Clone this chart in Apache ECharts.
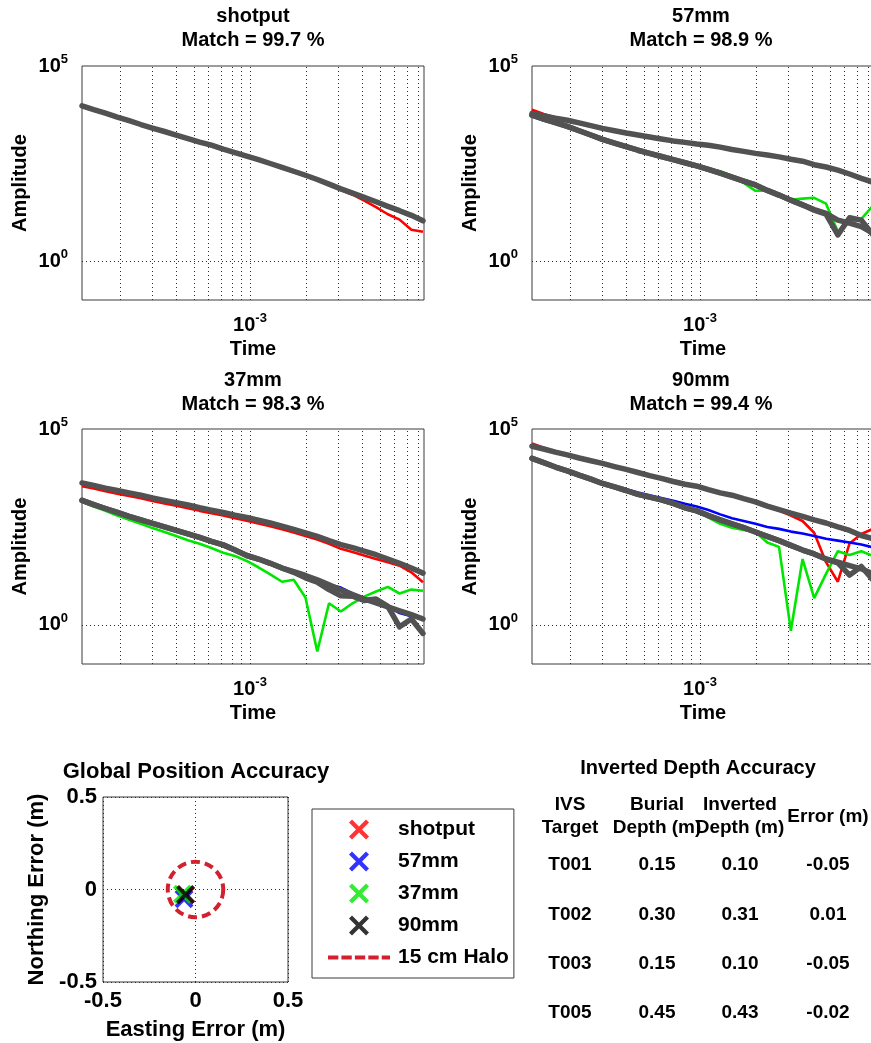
<!DOCTYPE html>
<html>
<head>
<meta charset="utf-8">
<script src="https://cdn.jsdelivr.net/npm/echarts@6/dist/echarts.min.js"></script>
<style>
  html, body { margin: 0; padding: 0; background: #fff; }
  #chart { width: 871px; height: 1043px; }
</style>
</head>
<body>
<div id="chart"></div>
<script>
// ---- time gates (s) shared by every decay curve ----
const times = [1.25e-4, 1.445e-4, 1.67e-4, 1.935e-4, 2.24e-4, 2.59e-4, 2.99e-4, 3.47e-4, 4.01e-4, 4.64e-4,
  5.36e-4, 6.2e-4, 7.18e-4, 8.3e-4, 9.6e-4, 1.11e-3, 1.285e-3, 1.486e-3, 1.718e-3, 1.987e-3,
  2.3e-3, 2.66e-3, 3.08e-3, 3.56e-3, 4.11e-3, 4.76e-3, 5.51e-3, 6.37e-3, 7.37e-3, 8.51e-3];

// ---- shotput ----
const shotputRed   = [9770, 7590, 6030, 4900, 3980, 3240, 2570, 2090, 1660, 1380, 1120, 912, 741, 603, 490, 398, 316, 251, 195, 155, 120, 91.2, 66.1, 50.1, 35.5, 24.0, 15.8, 11.5, 6.31, 5.62];
const shotputGreen = [9550, 7590, 6170, 4900, 3980, 3160, 2570, 2090, 1700, 1380, 1120, 933, 741, 603, 490, 398, 316, 251, 186, 155, 123, 93.3, 69.2, 53.7, 42.7, 33.1, 25.7, 20.0, 15.1, 11.2];
const shotputBlue  = [9550, 7590, 6170, 4900, 3980, 3160, 2570, 2090, 1700, 1380, 1120, 933, 741, 603, 490, 398, 316, 251, 200, 158, 123, 93.3, 70.8, 55.0, 42.7, 32.4, 25.1, 19.1, 14.5, 10.5];
const shotputFit   = [9550, 7590, 6170, 4900, 3980, 3160, 2570, 2090, 1700, 1380, 1120, 933, 741, 603, 490, 398, 316, 251, 200, 158, 123, 93.3, 70.8, 55.0, 42.7, 33.1, 25.1, 19.5, 14.8, 10.7];

// ---- 57mm ----
const mm57Red       = [7590, 5890, 4790, 4170, 3550, 3020, 2570, 2240, 1950, 1700, 1550, 1380, 1230, 1100, 1000, 912, 851, 741, 661, 575, 525, 457, 417, 355, 288, 263, 214, 166, 132, 110];
const mm57Green     = [5370, 4270, 3470, 2750, 2140, 1660, 1290, 1020, 832, 692, 575, 479, 398, 331, 288, 229, 200, 151, 100, 63.1, 63.1, 46.8, 37.2, 39.8, 41.7, 29.5, 5.62, 10.0, 12.0, 26.3];
const mm57Blue      = [5750, 4470, 3550, 2820, 2190, 1700, 1320, 1050, 851, 692, 589, 490, 407, 339, 288, 229, 182, 145, 115, 91.2, 66.1, 50.1, 37.2, 27.5, 21.4, 16.2, 11.7, 9.55, 7.94, 5.62];
const mm57FitUpper  = [6030, 5250, 4570, 4070, 3470, 2950, 2510, 2190, 1910, 1700, 1510, 1350, 1200, 1100, 1000, 933, 832, 724, 646, 575, 525, 468, 407, 363, 295, 257, 214, 170, 132, 105];
const mm57FitLowerA = [5500, 4370, 3550, 2820, 2190, 1700, 1320, 1050, 851, 692, 575, 479, 398, 331, 275, 224, 178, 141, 112, 89.1, 64.6, 49.0, 36.3, 27.5, 20.9, 16.6, 11.2, 9.33, 7.59, 5.13];
const mm57FitLowerB = [5500, 4370, 3550, 2820, 2190, 1700, 1320, 1050, 851, 692, 575, 479, 398, 331, 275, 224, 178, 141, 112, 89.1, 64.6, 49.0, 36.3, 27.5, 20.0, 15.8, 4.68, 12.9, 11.2, 4.68];

// ---- 37mm ----
const mm37Red       = [3470, 3020, 2570, 2240, 1950, 1700, 1450, 1260, 1100, 955, 813, 708, 617, 525, 457, 389, 331, 275, 229, 186, 151, 117, 87.1, 72.4, 58.9, 47.9, 39.8, 32.4, 21.9, 12.3];
const mm37Green     = [1380, 1050, 813, 617, 479, 380, 295, 234, 186, 145, 117, 91.2, 69.2, 57.5, 42.7, 29.5, 19.5, 12.6, 14.1, 5.01, 0.209, 3.55, 2.19, 3.55, 5.25, 7.08, 9.33, 6.31, 7.94, 7.41];
const mm37Blue      = [1580, 1200, 933, 741, 589, 479, 389, 316, 257, 209, 170, 135, 110, 83.2, 60.3, 47.9, 37.2, 28.8, 22.9, 18.2, 14.5, 10.7, 8.91, 6.31, 4.57, 3.63, 2.95, 2.00, 1.66, 1.55];
const mm37FitUpper  = [4170, 3630, 3090, 2690, 2340, 2040, 1740, 1510, 1320, 1150, 977, 851, 741, 631, 550, 468, 398, 331, 275, 224, 182, 141, 112, 93.3, 75.9, 61.7, 47.9, 37.2, 28.2, 20.9];
const mm37FitLowerA = [1510, 1170, 933, 741, 589, 479, 389, 316, 257, 209, 170, 135, 110, 81.3, 58.9, 47.9, 37.2, 28.2, 22.9, 18.2, 14.1, 10.5, 7.76, 5.89, 4.57, 3.63, 2.88, 2.29, 1.82, 1.41];
const mm37FitLowerB = [1510, 1170, 933, 741, 589, 479, 389, 316, 257, 209, 170, 135, 110, 81.3, 58.9, 47.9, 37.2, 28.2, 21.9, 15.8, 12.3, 7.94, 5.50, 5.37, 4.17, 4.57, 2.95, 0.891, 1.41, 0.603];

// ---- 90mm ----
const mm90Red       = [42700, 33100, 26300, 21900, 18600, 15500, 13200, 11000, 9330, 7760, 6610, 5500, 4570, 3890, 3470, 2820, 2340, 2000, 1660, 1380, 1050, 832, 617, 447, 224, 39.8, 12.6, 120, 209, 282];
const mm90Green     = [16600, 13200, 10200, 8130, 6310, 5010, 3980, 3160, 2570, 2040, 1740, 1450, 1170, 912, 759, 550, 380, 302, 263, 234, 126, 97.7, 0.708, 47.9, 4.79, 20.0, 75.9, 60.3, 75.9, 57.5];
const mm90Blue      = [17800, 13800, 10700, 8510, 6610, 5250, 4170, 3470, 2880, 2400, 2040, 1740, 1480, 1230, 1050, 851, 661, 525, 447, 380, 316, 282, 240, 214, 186, 158, 141, 126, 112, 95.5];
const mm90FitUpper  = [36300, 30900, 25700, 21900, 18200, 15500, 13200, 11000, 9330, 7760, 6460, 5500, 4570, 3890, 3470, 2820, 2340, 2040, 1660, 1380, 1070, 871, 708, 589, 479, 398, 316, 257, 191, 158];
const mm90FitLowerA = [17800, 13800, 10700, 8510, 6610, 5250, 4070, 3310, 2690, 2140, 1820, 1550, 1260, 977, 813, 617, 479, 380, 302, 234, 182, 141, 107, 81.3, 64.6, 47.9, 39.8, 32.4, 26.9, 20.0];
const mm90FitLowerB = [17800, 13800, 10700, 8510, 6610, 5250, 4070, 3310, 2690, 2140, 1820, 1550, 1260, 977, 813, 617, 479, 380, 302, 234, 182, 141, 107, 81.3, 64.6, 47.9, 38.0, 18.6, 30.9, 14.1];

// ---- panel labels ----
const targetNames = ['shotput', '57mm', '37mm', '90mm'];
const matchPct = [99.7, 98.9, 98.3, 99.4];

// ---- axis ranges, grid-line positions and labelled ticks of the log panels ----
const timeRange = [1.25e-4, 8.62e-3];
const ampRange = [0.1, 1e5];
const timeGridLines = [2e-4, 3e-4, 4e-4, 5e-4, 6e-4, 7e-4, 8e-4, 9e-4, 1e-3, 2e-3, 3e-3, 4e-3, 5e-3, 6e-3, 7e-3, 8e-3];
const ampGridLines = [1];
const timeTickLabels = [1e-3];
const ampTickLabels = [1, 1e5];

// ---- position errors (m) ----
const eastingError  = [-0.055, -0.062, -0.070, -0.053];
const northingError = [-0.030, -0.050, -0.025, -0.027];
const haloCenter = [0, 0];
const haloRadius = 0.15;
const haloName = '15 cm Halo';

// ---- depth table ----
const ivsTargets    = ['T001', 'T002', 'T003', 'T005'];
const burialDepth   = [0.15, 0.30, 0.15, 0.45];
const invertedDepth = [0.10, 0.31, 0.10, 0.43];
const depthError    = [-0.05, 0.01, -0.05, -0.02];
const tableHeaders  = ['IVS\nTarget', 'Burial\nDepth (m)', 'Inverted\nDepth (m)', 'Error (m)'];

// ---------------------------------------------------------------------------
const FONT = "'Liberation Sans', Arial, Helvetica, sans-serif";
const chart = echarts.init(document.getElementById('chart'), null, { renderer: 'canvas', width: 871, height: 1043 });

const panels = [
  { data: [shotputRed, shotputGreen, shotputBlue], fits: [shotputFit] },
  { data: [mm57Red, mm57Green, mm57Blue], fits: [mm57FitUpper, mm57FitLowerA, mm57FitLowerB] },
  { data: [mm37Red, mm37Green, mm37Blue], fits: [mm37FitUpper, mm37FitLowerA, mm37FitLowerB] },
  { data: [mm90Red, mm90Green, mm90Blue], fits: [mm90FitUpper, mm90FitLowerA, mm90FitLowerB] }
];
const dataColors = ['#ff0000', '#00e600', '#0000ff'];
const fitColor = '#525252';
const markerColors = ['#ff0000', '#0000ff', '#00e600', '#000000'];
const haloColor = '#d3202e';
const dotStyle = { color: '#2a2a2a', width: 1, type: [1, 3] };

const boxes = [
  { left: 82,  top: 66,  width: 342, height: 234 },
  { left: 532, top: 66,  width: 342, height: 234 },
  { left: 82,  top: 429, width: 342, height: 235 },
  { left: 532, top: 429, width: 342, height: 235 }
];
const scatterBox = { left: 103, top: 797, width: 185, height: 185 };

const supRich = {
  b: { fontFamily: FONT, fontSize: 20, fontWeight: 'bold', color: '#000', lineHeight: 26 },
  s: { fontFamily: FONT, fontSize: 13, fontWeight: 'bold', color: '#000', lineHeight: 12, verticalAlign: 'top' }
};
const nearPow = (v, list) => list.find(p => Math.abs(Math.log10(v) - Math.log10(p)) < 1e-6);
const powLabel = v => '{b|10}{s|' + Math.round(Math.log10(v)) + '}';
const nameStyle = size => ({ fontFamily: FONT, fontSize: size, fontWeight: 'bold', color: '#000' });

const grids = [];
const xAxes = [];
const yAxes = [];
const series = [];

boxes.forEach((b, i) => {
  grids.push(Object.assign({ show: true, borderColor: '#3a3a3a', borderWidth: 1, backgroundColor: '#fff',
    containLabel: false, outerBoundsMode: 'none' }, b));
  xAxes.push({
    type: 'log', logBase: 10, gridIndex: i, min: timeRange[0], max: timeRange[1],
    axisLine: { show: false }, axisTick: { show: false }, splitLine: { show: false },
    axisLabel: {
      margin: 12, interval: 0,
      formatter: v => (nearPow(v, timeTickLabels) ? powLabel(v) : ''), rich: supRich
    },
    name: 'Time', nameLocation: 'middle', nameGap: 39, nameTextStyle: nameStyle(20)
  });
  yAxes.push({
    type: 'log', logBase: 10, gridIndex: i, min: ampRange[0], max: ampRange[1],
    axisLine: { show: false }, axisTick: { show: false }, splitLine: { show: false },
    axisLabel: {
      margin: 14, interval: 0,
      formatter: v => (nearPow(v, ampTickLabels) ? powLabel(v) : ''), rich: supRich
    },
    name: 'Amplitude', nameLocation: 'middle', nameRotate: 90, nameGap: 52, nameTextStyle: nameStyle(20)
  });

  // dotted grid of the log panel: full-height verticals and the 10^0 horizontal
  const gridSegments = timeGridLines.map(t => [{ coord: [t, ampRange[0]] }, { coord: [t, ampRange[1]] }])
    .concat(ampGridLines.map(a => [{ coord: [timeRange[0], a] }, { coord: [timeRange[1], a] }]));
  series.push({
    type: 'line', xAxisIndex: i, yAxisIndex: i, data: [], silent: true, z: 1,
    markLine: {
      silent: true, z: 1, animation: false, symbol: ['none', 'none'], label: { show: false },
      lineStyle: dotStyle, emphasis: { disabled: true },
      data: gridSegments
    }
  });

  const p = panels[i];
  p.data.forEach((vals, k) => {
    series.push({
      type: 'line', xAxisIndex: i, yAxisIndex: i, silent: true, symbol: 'none', z: 2,
      data: times.map((t, j) => [t, vals[j]]),
      lineStyle: { color: dataColors[k], width: 2.6 }
    });
  });
  p.fits.forEach(vals => {
    series.push({
      type: 'line', xAxisIndex: i, yAxisIndex: i, silent: true, symbol: 'none', z: 3,
      data: times.map((t, j) => [t, vals[j]]),
      lineStyle: { color: fitColor, width: 5.5, cap: 'round', join: 'round' }
    });
  });
});

// ---- position accuracy panel ----
grids.push(Object.assign({ show: true, borderColor: '#3a3a3a', borderWidth: 1, backgroundColor: '#fff',
  containLabel: false, outerBoundsMode: 'none' }, scatterBox));
const scatterLabel = { fontFamily: FONT, fontSize: 22, fontWeight: 'bold', color: '#000' };
xAxes.push({
  type: 'value', gridIndex: 4, min: -0.5, max: 0.5, interval: 0.5,
  axisLine: { show: false }, axisTick: { show: false },
  splitLine: { show: true, lineStyle: dotStyle },
  axisLabel: Object.assign({ margin: 8 }, scatterLabel),
  name: 'Easting Error (m)', nameLocation: 'middle', nameGap: 37, nameTextStyle: nameStyle(22)
});
yAxes.push({
  type: 'value', gridIndex: 4, min: -0.5, max: 0.5, interval: 0.5,
  axisLine: { show: false }, axisTick: { show: false },
  splitLine: { show: true, lineStyle: dotStyle },
  axisLabel: Object.assign({ margin: 6 }, scatterLabel),
  name: 'Northing Error (m)', nameLocation: 'middle', nameRotate: 90, nameGap: 55, nameTextStyle: nameStyle(22)
});

const crossPath = 'path://M3,0 L10,7 L17,0 L20,3 L13,10 L20,17 L17,20 L10,13 L3,20 L0,17 L7,10 L0,3 Z';
const dashPath = 'path://M0,0h10v4h-10z M13,0h10v4h-10z M26,0h10v4h-10z M39,0h10v4h-10z M52,0h8v4h-8z';

targetNames.forEach((name, k) => {
  series.push({
    type: 'scatter', name, xAxisIndex: 4, yAxisIndex: 4, silent: true, z: 4,
    symbol: crossPath, symbolSize: 19,
    itemStyle: { color: markerColors[k] },
    data: [[eastingError[k], northingError[k]]]
  });
});
series.push({
  type: 'custom', name: haloName, xAxisIndex: 4, yAxisIndex: 4, silent: true, z: 3,
  itemStyle: { color: haloColor },
  data: [[haloCenter[0], haloCenter[1], haloRadius]],
  renderItem: (params, api) => {
    const c = api.coord([api.value(0), api.value(1)]);
    const r = api.size([api.value(2), 0])[0];
    return {
      type: 'circle',
      shape: { cx: c[0], cy: c[1], r },
      style: { fill: 'none', stroke: haloColor, lineWidth: 4, lineDash: [9, 5] }
    };
  }
});

// ---- titles ----
const titleX = [253, 701, 253, 701];
const titleTop = [4, 4, 368, 368];
const titles = targetNames.map((name, i) => ({
  text: name + '\nMatch = ' + matchPct[i].toFixed(1) + ' %',
  left: titleX[i], top: titleTop[i], textAlign: 'center', padding: 0,
  textStyle: { fontFamily: FONT, fontSize: 20, fontWeight: 'bold', color: '#000', lineHeight: 24 }
}));
titles.push({
  text: 'Global Position Accuracy', left: 196, top: 759, textAlign: 'center', padding: 0,
  textStyle: { fontFamily: FONT, fontSize: 22, fontWeight: 'bold', color: '#000', lineHeight: 26 }
});
titles.push({
  text: 'Inverted Depth Accuracy', left: 698, top: 756, textAlign: 'center', padding: 0,
  textStyle: { fontFamily: FONT, fontSize: 20, fontWeight: 'bold', color: '#000', lineHeight: 24 }
});

// ---- depth table ----
const colX = [570, 657, 740, 828];
const rowY0 = 865, rowStep = 49.3;
const cellText = (text, x, y) => ({
  type: 'text', x, y, silent: true,
  style: {
    text, fill: '#000', font: 'bold 19px ' + FONT, lineHeight: 23,
    align: 'center', verticalAlign: 'middle', textAlign: 'center', textVerticalAlign: 'middle'
  }
});
const graphics = [];
tableHeaders.forEach((h, c) => graphics.push(cellText(h, colX[c], 816.5)));
ivsTargets.forEach((t, r) => {
  const y = rowY0 + r * rowStep;
  graphics.push(cellText(t, colX[0], y));
  graphics.push(cellText(burialDepth[r].toFixed(2), colX[1], y));
  graphics.push(cellText(invertedDepth[r].toFixed(2), colX[2], y));
  graphics.push(cellText(depthError[r].toFixed(2), colX[3], y));
});

const option = {
  animation: false,
  backgroundColor: '#fff',
  title: titles,
  grid: grids,
  xAxis: xAxes,
  yAxis: yAxes,
  legend: {
    orient: 'vertical', left: 312, top: 809,
    padding: [10, 5, 10, 16], itemGap: 11, itemWidth: 62, itemHeight: 20,
    backgroundColor: '#fff', borderColor: '#3a3a3a', borderWidth: 1, borderRadius: 0,
    selectedMode: false,
    itemStyle: { borderWidth: 0 },
    textStyle: { fontFamily: FONT, fontSize: 21, fontWeight: 'bold', color: '#000', padding: [0, 0, 0, 3] },
    data: targetNames.map(n => ({ name: n, icon: crossPath })).concat([{ name: haloName, icon: dashPath }])
  },
  graphic: graphics,
  series
};
chart.setOption(option);
</script>
</body>
</html>
